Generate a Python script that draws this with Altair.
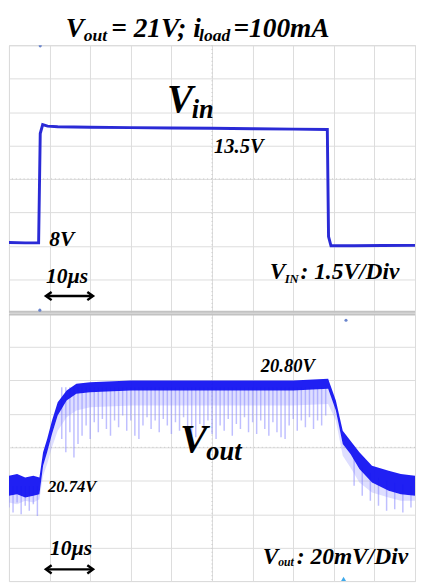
import altair as alt
import pandas as pd

# ---------------- data ----------------
T_DOMAIN = [0, 100]                      # time, µs (10 µs / div)
GRID_T = [0, 10, 20, 30, 40, 50, 60, 70, 80, 90, 100]

VIN_DOMAIN = [4.68, 17.40]               # V (1.5 V / div)
VOUT_DOMAIN = [20.683, 20.843]           # V (20 mV / div)

vin_t = [0, 4, 7.3, 7.7, 8.3, 9.5, 12, 20, 30, 40, 50, 60, 70, 78.4, 78.7, 79.3, 85, 92, 100]
vin_v = [8.02, 8.0, 8.0, 13.2, 13.62, 13.55, 13.52, 13.5, 13.48, 13.46, 13.45, 13.43, 13.41, 13.39, 8.3, 7.86, 7.86, 7.87, 7.88]

vout_t = [0, 2, 4, 6, 7.5, 8.4, 9.4, 10.6, 12, 14.2, 16.6, 20, 30, 40, 50, 60, 70, 78.6,
          80.5, 82.2, 84.1, 86.3, 89.4, 93.5, 96.5, 100]
vout_mid = [20.740, 20.741, 20.739, 20.740, 20.740, 20.756, 20.764, 20.775, 20.786, 20.794,
            20.798, 20.799, 20.800, 20.800, 20.800, 20.800, 20.800, 20.801,
            20.788, 20.769, 20.763, 20.755, 20.747, 20.743, 20.741, 20.740]
vout_half = [0.006, 0.006, 0.006, 0.006, 0.005, 0.004, 0.004, 0.004, 0.004, 0.003,
             0.003, 0.003, 0.003, 0.003, 0.003, 0.003, 0.003, 0.003,
             0.003, 0.004, 0.004, 0.005, 0.005, 0.006, 0.006, 0.006]
vout_floor = [20.730, 20.729, 20.731, 20.730, 20.732, 20.746, 20.753, 20.763, 20.773, 20.781,
              20.785, 20.787, 20.788, 20.788, 20.788, 20.788, 20.788, 20.789,
              20.779, 20.758, 20.751, 20.742, 20.736, 20.733, 20.731, 20.731]

spike_t = [0, 1, 2, 3, 4, 5, 6, 7] + list(range(13, 79)) + [85, 87, 89, 91, 93, 95, 97, 99]
spike_top = [20.740] * 8 + [20.799] * 66 + [20.757, 20.751, 20.748, 20.745, 20.743, 20.742, 20.741, 20.740]
spike_low = [20.727, 20.724, 20.730, 20.723, 20.728, 20.725, 20.729, 20.722,
             20.768, 20.760, 20.772, 20.757, 20.765, 20.770, 20.776, 20.768, 20.778, 20.772,
             20.780, 20.774, 20.770, 20.779, 20.775, 20.782, 20.773, 20.779, 20.770, 20.768,
             20.776, 20.781, 20.774, 20.779, 20.772, 20.780, 20.776, 20.771, 20.778, 20.773,
             20.781, 20.775, 20.770, 20.769, 20.777, 20.772, 20.779, 20.771, 20.768, 20.776,
             20.773, 20.780, 20.770, 20.777, 20.774, 20.781, 20.772, 20.778, 20.771, 20.779,
             20.774, 20.770, 20.778, 20.772, 20.769, 20.768, 20.776, 20.780, 20.773, 20.779,
             20.775, 20.781, 20.774, 20.779, 20.776, 20.782,
             20.740, 20.734, 20.731, 20.728, 20.725, 20.726, 20.724, 20.727]

# annotations: text, time, value, font size
top_text = ["V", "out", "= 21V; i", "load", "=100mA",
            "V", "in", "13.5V", "8V", "10µs", "V", "IN", ": 1.5V/Div"]
top_tt = [14.0, 18.4, 25.2, 46.8, 55.3, 38.9, 45.0, 50.5, 9.9, 9.1, 64.2, 67.9, 71.8]
top_vv = [17.77, 17.58, 17.77, 17.58, 17.77, 14.20, 13.96, 12.25, 7.84, 6.07, 6.26, 6.07, 6.26]
top_sz = [28, 18, 28, 18, 28, 40, 27, 21, 22, 22, 24, 13, 24]

bot_text = ["20.80V", "V", "out", "20.74V", "10µs", "V", "out", ": 20mV/Div"]
bot_tt = [62.0, 42.1, 48.6, 9.6, 10.1, 62.5, 66.3, 70.9]
bot_vv = [20.808, 20.760, 20.7554, 20.7361, 20.6988, 20.6935, 20.6918, 20.6935]
bot_sz = [19, 42, 27, 17, 22, 24, 12, 24]

arrow_t = [9.6, 20.2]
arrow_top_v = 5.47
arrow_bot_v = 20.690

# ---------------- styling ----------------
W, H = 416, 274
GRID_C = "#dcdcdc"
FONT = "Liberation Serif"
VIN_C = "#2a2ad6"
BAND_C = "#1414f2"
SPIKE_C = "#8a8aff"


def y_vals(dom):
    step = (dom[1] - dom[0]) / 8
    return [dom[0] + k * step for k in range(9)]


xs = alt.Scale(domain=T_DOMAIN, nice=False, zero=False)
x_axis = alt.Axis(values=GRID_T, grid=True, labels=False, ticks=False, domain=False,
                  title=None, gridColor=GRID_C, gridWidth=1)


def panel(dom, trace_layers, notes_df, arrow_v, center_v, dots_df, divider_v):
    ys = alt.Scale(domain=dom, nice=False, zero=False)
    y_axis = alt.Axis(values=y_vals(dom), grid=True, labels=False, ticks=False, domain=False,
                      title=None, gridColor=GRID_C, gridWidth=1)

    def X(f):
        return alt.X(f, scale=xs, axis=x_axis)

    def Y(f):
        return alt.Y(f, scale=ys, axis=y_axis)

    cx = alt.Chart(pd.DataFrame({"t": [50]})).mark_rule(color="#c4c4c4", strokeDash=[1, 3], strokeWidth=1).encode(
        x=X("t:Q"))
    cy = alt.Chart(pd.DataFrame({"v": [center_v]})).mark_rule(color="#c4c4c4", strokeDash=[1, 3], strokeWidth=1).encode(
        y=Y("v:Q"))
    div = alt.Chart(pd.DataFrame({"v": [divider_v]})).mark_rule(color="#c2c2c2", strokeWidth=4, clip=True).encode(
        y=Y("v:Q"))
    layers = [cx, cy, div]
    for lay in trace_layers:
        layers.append(lay(X, Y))
    notes = alt.Chart(notes_df).mark_text(font=FONT, fontStyle="italic", fontWeight="bold",
                                          align="left", baseline="alphabetic", color="black").encode(
        x=X("t:Q"), y=Y("v:Q"),
        text="text:N", size=alt.Size("size:Q", scale=None, legend=None))
    adf = pd.DataFrame({"t": [arrow_t[0]], "t2": [arrow_t[1]], "v": [arrow_v]})
    shaft = alt.Chart(adf).mark_rule(color="black", strokeWidth=2.5).encode(
        x=X("t:Q"), x2="t2:Q", y=Y("v:Q"))
    heads = pd.DataFrame({"t": arrow_t, "v": [arrow_v, arrow_v],
                          "shape": ["M0.9,-1L-0.5,0L0.9,1", "M-0.9,-1L0.5,0L-0.9,1"]})
    head = alt.Chart(heads).mark_point(filled=False, color="black", strokeWidth=2.5, size=70, opacity=1).encode(
        x=X("t:Q"), y=Y("v:Q"),
        shape=alt.Shape("shape:N", scale=None, legend=None))
    dots = alt.Chart(dots_df).mark_point(filled=True, opacity=0.9, clip=True).encode(
        x=X("t:Q"), y=Y("v:Q"),
        shape=alt.Shape("shape:N", scale=None, legend=None),
        color=alt.Color("color:N", scale=None, legend=None),
        size=alt.Size("size:Q", scale=None, legend=None))
    layers += [notes, shaft, head, dots]
    return alt.layer(*layers).properties(width=W, height=H)


vin_df = pd.DataFrame({"t": vin_t, "v": vin_v})
vout_df = pd.DataFrame({"t": vout_t, "mid": vout_mid, "half": vout_half, "floor": vout_floor})
vout_df["hi"] = vout_df["mid"] + vout_df["half"]
vout_df["lo"] = vout_df["mid"] - vout_df["half"]
spike_df = pd.DataFrame({"t": spike_t, "top": spike_top, "low": spike_low})


def vin_line(X, Y):
    return alt.Chart(vin_df).mark_line(color=VIN_C, strokeWidth=3, interpolate="linear", clip=True).encode(
        x=X("t:Q"), y=Y("v:Q"))


def vout_light(X, Y):
    return alt.Chart(vout_df).mark_area(color=SPIKE_C, opacity=0.28, clip=True).encode(
        x=X("t:Q"), y=Y("lo:Q"), y2="floor:Q")


def vout_spikes(X, Y):
    return alt.Chart(spike_df).mark_rule(color=SPIKE_C, strokeWidth=1.5, opacity=0.55, clip=True).encode(
        x=X("t:Q"), y=Y("top:Q"), y2="low:Q")


def vout_band(X, Y):
    return alt.Chart(vout_df).mark_area(color=BAND_C, opacity=0.95, clip=True).encode(
        x=X("t:Q"), y=Y("hi:Q"), y2="lo:Q")


top_notes = pd.DataFrame({"text": top_text, "t": top_tt, "v": top_vv, "size": top_sz})
bot_notes = pd.DataFrame({"text": bot_text, "t": bot_tt, "v": bot_vv, "size": bot_sz})

top_dots = pd.DataFrame({"t": [7.7, 7.6], "v": [17.37, 4.80], "shape": ["circle", "circle"],
                         "color": ["#5a78c8", "#5a78c8"], "size": [10, 10]})
bot_dots = pd.DataFrame({"t": [83.0, 82.4], "v": [20.839, 20.684], "shape": ["circle", "triangle-up"],
                         "color": ["#5a78c8", "#2aa0e8"], "size": [10, 40]})

top = panel(VIN_DOMAIN, [vin_line], top_notes, arrow_top_v,
            (VIN_DOMAIN[0] + VIN_DOMAIN[1]) / 2, top_dots, VIN_DOMAIN[0])
bottom = panel(VOUT_DOMAIN, [vout_light, vout_spikes, vout_band], bot_notes, arrow_bot_v,
               (VOUT_DOMAIN[0] + VOUT_DOMAIN[1]) / 2, bot_dots, VOUT_DOMAIN[1])

chart = alt.vconcat(top, bottom, spacing=1, bounds="flush").resolve_scale(
    x="independent", y="independent", size="independent", shape="independent", color="independent"
).properties(
    padding={"left": 0, "top": 0, "right": 0, "bottom": 0},
    background="white",
).configure_view(stroke="#d4d4d4", strokeWidth=1)

chart.save("out.html", embed_options={"renderer": "svg", "actions": False})
